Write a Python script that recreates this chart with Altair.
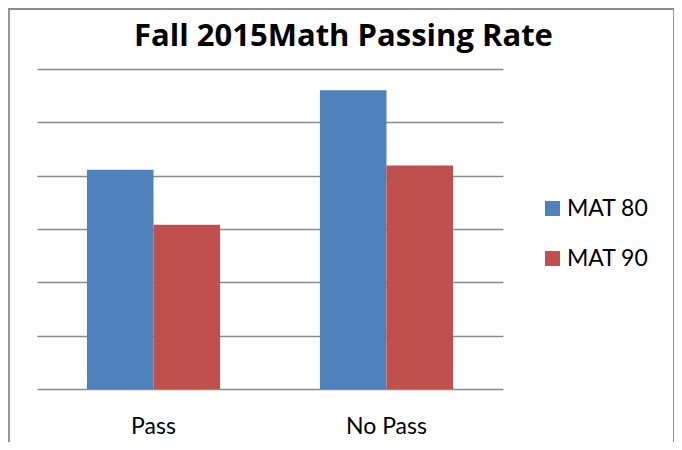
import altair as alt
import pandas as pd

title_text = "Fall 2015Math Passing Rate"
categories = ["Pass", "No Pass"]
series = ["MAT 80", "MAT 90"]
mat80 = [41.1, 56.0]
mat90 = [30.8, 41.9]
y_ticks = [0, 10, 20, 30, 40, 50, 60]

rows = []
for i, c in enumerate(categories):
    rows.append({"category": c, "series": series[0], "value": mat80[i]})
    rows.append({"category": c, "series": series[1], "value": mat90[i]})
df = pd.DataFrame(rows)

FONT = "Lato"

bars = alt.Chart(df).mark_bar().encode(
    x=alt.X("category:N", sort=categories,
            scale=alt.Scale(paddingInner=0.4286, paddingOuter=0.2143),
            axis=alt.Axis(title=None, labelAngle=0, ticks=False, tickSize=0, domain=False,
                          labelPadding=44, labelBaseline="alphabetic",
                          labelFont=FONT, labelFontSize=23, labelColor="#000000")),
    xOffset=alt.XOffset("series:N", sort=series, scale=alt.Scale(paddingInner=0, paddingOuter=0)),
    y=alt.Y("value:Q", scale=alt.Scale(domain=[0, 60], nice=False),
            axis=alt.Axis(title=None, values=y_ticks, labels=False, ticks=False, domain=False,
                          grid=True, gridColor="#8a8a8a", gridWidth=1.6)),
    color=alt.Color("series:N", sort=series,
                    scale=alt.Scale(domain=series, range=["#4F81BD", "#C0504D"]),
                    legend=alt.Legend(title=None, orient="none", legendX=504, legendY=128,
                                      symbolType="square", symbolSize=225, symbolStrokeWidth=0,
                                      labelFont=FONT, labelFontSize=23, labelColor="#000000",
                                      rowPadding=26, labelOffset=3)),
)

frame = alt.Chart(pd.DataFrame({"a": [0]})).mark_rect(
    fillOpacity=0, stroke="#8c8c8c", strokeWidth=1.8
).encode(x=alt.value(-28), x2=alt.value(637), y=alt.value(-60), y2=alt.value(420))

title = alt.Chart(pd.DataFrame({"t": [title_text]})).mark_text(
    font="Open Sans", fontSize=31, fontWeight="bold", color="#000000",
    align="center", baseline="alphabetic"
).encode(text="t:N", x=alt.value(306.5), y=alt.value(-23))

chart = alt.layer(frame, bars, title).properties(
    width=466, height=320,
    autosize=alt.AutoSizeParams(type="none"),
    padding={"left": 29, "top": 61, "right": 171, "bottom": 53},
).configure_view(strokeWidth=0)

chart.save("out.html", embed_options={"renderer": "svg", "actions": False})
